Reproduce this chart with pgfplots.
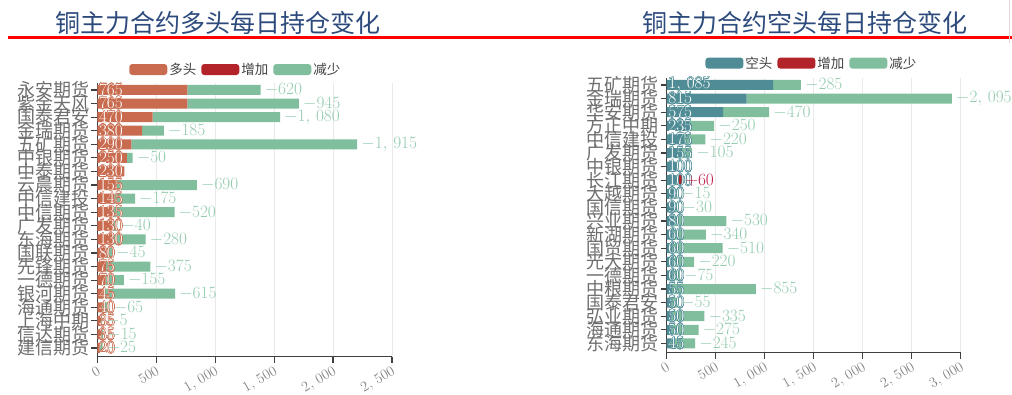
\documentclass[border=0pt]{standalone}
\usepackage{fontspec}
\usepackage{pgfplots}
\usepackage{pgfplotstable}
\usepackage{contour}
\pgfplotsset{compat=1.18}
\newfontfamily\cjk{Noto Sans CJK SC}
\definecolor{orangec}{HTML}{C96B4F}
\definecolor{redc}{HTML}{B3232A}
\definecolor{greenc}{HTML}{80BE9E}
\definecolor{tealc}{HTML}{4F8C96}
\definecolor{lgreen}{HTML}{93CBAD}
\definecolor{titlec}{HTML}{2C4A7C}
\definecolor{labc}{HTML}{6E6E6E}
\definecolor{gridc}{HTML}{EAEAEA}
\contourlength{0.45pt}

\pgfplotstableread{
name v inc dec
永安期货 765 0 620
紫金天风 765 0 945
国泰君安 470 0 1080
金瑞期货 380 0 185
五矿期货 290 0 1915
中银期货 250 0 50
中泰期货 230 0 0
云晨期货 155 0 690
中信建投 145 0 175
中信期货 135 0 520
广发期货 130 0 40
东海期货 130 0 280
国联期货 80 0 45
先锋期货 75 0 375
一德期货 70 0 155
银河期货 45 0 615
海通期货 40 0 65
上海中期 35 0 5
信达期货 35 0 15
建信期货 20 0 25
}\longtab

\pgfplotstableread{
name v inc dec
五矿期货 1085 0 285
金瑞期货 815 0 2095
华安期货 575 0 470
方正中期 235 0 250
中信建投 175 0 220
广发期货 155 0 105
中银期货 100 0 0
长江期货 100 60 0
大越期货 90 0 15
国信期货 90 0 30
兴业期货 80 0 530
新湖期货 60 0 340
国贸期货 60 0 510
光大期货 60 0 220
一德期货 60 0 75
中粮期货 55 0 855
国泰君安 50 0 55
弘业期货 50 0 335
海通期货 50 0 275
东海期货 45 0 245
}\shorttab

\pgfplotsset{
  base/.style={scale only axis, anchor=south west, xmin=0, ymax=20.5, enlargelimits=false},
  sw/.style={legend image code/.code={\fill[##1,rounded corners=3pt] (0pt,-5.5pt) rectangle (38pt,5.5pt);}},
  mainax/.style={base, xbar stacked, bar width=10pt,
    axis x line*=bottom, axis y line*=left,
    axis line style={draw=black!75, line width=1.2pt},
    tick align=outside, major tick length=6pt,
    tick style={draw=black!75, line width=1.2pt},
    xmajorgrids, major grid style={draw=gridc, line width=1pt},
    scaled x ticks=false,
    /pgf/number format/1000 sep={,\,},
    x tick label style={rotate=30, anchor=north east, font=\fontsize{14}{14}\selectfont, text=labc!85, inner sep=2pt},
    ytick={20,19,...,1},
    y tick label style={font=\cjk\fontsize{18}{18}\selectfont, text=labc, inner sep=2pt},
    legend columns=3,
    legend style={draw=none, fill=none, font=\cjk\fontsize{13.5}{13.5}\selectfont, text=black!75, anchor=center,
      /tikz/every even column/.append style={column sep=3pt}, inner sep=0pt},
  },
  labax/.style={base, hide axis, clip=false,
    point meta=explicit, nodes near coords align=horizontal,
    /pgf/number format/1000 sep={,\,}},
  vlab/.style={draw=none, nodes near coords={\contour{#1}{\pgfmathprintnumber{\pgfplotspointmeta}}},
    every node near coord/.append style={font=\fontsize{17}{17}\selectfont, text=white, inner sep=1.5pt}},
  dlab/.style={draw=none, nodes near coords={$-$\pgfmathprintnumber{\pgfplotspointmeta}},
    every node near coord/.append style={font=\fontsize{17}{17}\selectfont, text=lgreen, inner sep=4pt}},
  ilab/.style={draw=none, nodes near coords={$+$\pgfmathprintnumber{\pgfplotspointmeta}},
    every node near coord/.append style={font=\fontsize{17}{17}\selectfont, text=redc!85!magenta, inner sep=3pt}},
}

\begin{document}
\begin{tikzpicture}[x=1pt,y=1pt]
\useasboundingbox (0,0) rectangle (1012,395);
\node[font=\cjk\fontsize{25}{25}\selectfont, text=titlec] at (218,372) {铜主力合约多头每日持仓变化};
\node[font=\cjk\fontsize{25}{25}\selectfont, text=titlec] at (805,372) {铜主力合约空头每日持仓变化};
\draw[red, line width=3pt] (8,357) -- (1012,357);
\draw[black!15, line width=1pt] (1009.5,395) -- (1009.5,352);

% ---------- left chart ----------
\begin{axis}[mainax, at={(97.3pt,38.3pt)}, width=294.7pt, height=273.5pt, xmax=2500, ymin=0.36,
  xtick={0,500,...,2500}, yticklabels from table={\longtab}{name},
  legend style={at={(0.47,1.05)}}]
\addplot[fill=orangec, draw=none, sw] table[x=v, y expr=20-\coordindex] {\longtab};
\addlegendentry{多头}
\addplot[fill=redc, draw=none, sw] table[x=inc, y expr=20-\coordindex] {\longtab};
\addlegendentry{增加}
\addplot[fill=greenc, draw=none, sw] table[x=dec, y expr=20-\coordindex] {\longtab};
\addlegendentry{减少}
\end{axis}
\begin{axis}[labax, at={(97.3pt,38.3pt)}, width=294.7pt, height=273.5pt, xmax=2500, ymin=0.36]
\addplot[vlab=orangec] table[x expr=0, y expr=20-\coordindex, meta=v] {\longtab};
\addplot[dlab, restrict expr to domain={\thisrow{dec}}{1:100000}]
  table[x expr=\thisrow{v}+\thisrow{inc}+\thisrow{dec}, y expr=20-\coordindex, meta=dec] {\longtab};
\end{axis}

% ---------- right chart ----------
\begin{axis}[mainax, at={(666.7pt,42.3pt)}, width=294pt, height=274.5pt, xmax=3000, ymin=0.32,
  xtick={0,500,...,3000}, yticklabels from table={\shorttab}{name},
  legend style={at={(0.494,1.055)}}]
\addplot[fill=tealc, draw=none, sw] table[x=v, y expr=20-\coordindex] {\shorttab};
\addlegendentry{空头}
\addplot[fill=redc, draw=none, sw] table[x=inc, y expr=20-\coordindex] {\shorttab};
\addlegendentry{增加}
\addplot[fill=greenc, draw=none, sw] table[x=dec, y expr=20-\coordindex] {\shorttab};
\addlegendentry{减少}
\end{axis}
\begin{axis}[labax, at={(666.7pt,42.3pt)}, width=294pt, height=274.5pt, xmax=3000, ymin=0.32]
\addplot[vlab=tealc] table[x expr=0, y expr=20-\coordindex, meta=v] {\shorttab};
\addplot[dlab, restrict expr to domain={\thisrow{dec}}{1:100000}]
  table[x expr=\thisrow{v}+\thisrow{inc}+\thisrow{dec}, y expr=20-\coordindex, meta=dec] {\shorttab};
\addplot[ilab, restrict expr to domain={\thisrow{inc}}{1:100000}]
  table[x expr=\thisrow{v}+\thisrow{inc}, y expr=20-\coordindex, meta=inc] {\shorttab};
\end{axis}
\end{tikzpicture}
\end{document}
